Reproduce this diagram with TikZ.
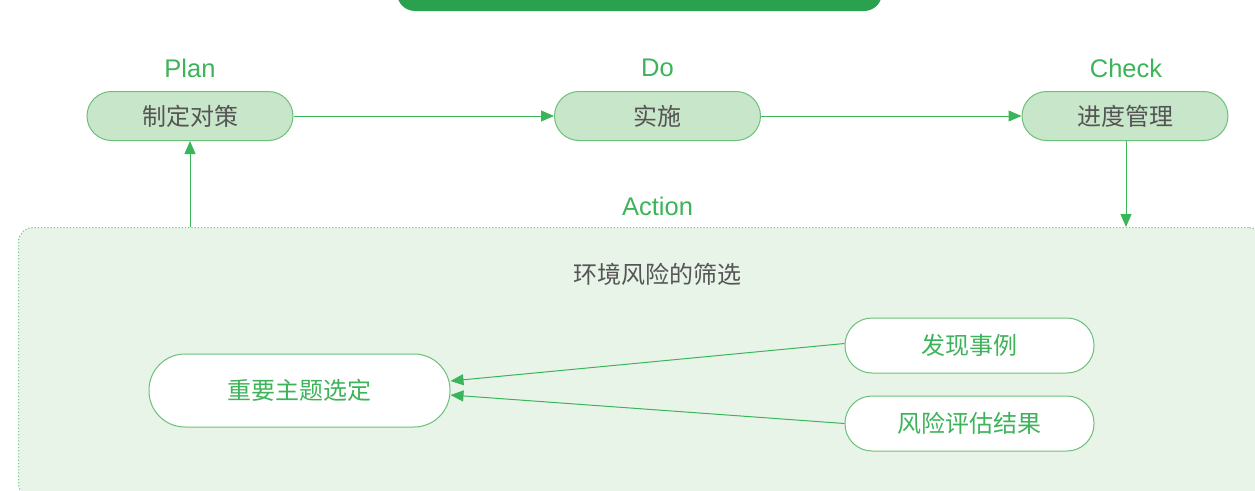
\documentclass[tikz,border=0pt]{standalone}
\usepackage{fontspec}
\setmainfont{Liberation Sans}
\newfontfamily\cjk{Noto Sans CJK SC}
\usetikzlibrary{arrows.meta}
\definecolor{banner}{HTML}{2AA14E}
\definecolor{topfill}{HTML}{C8E6C9}
\definecolor{topline}{HTML}{6CC077}
\definecolor{arrowc}{HTML}{3BB55A}
\definecolor{greytext}{HTML}{555555}
\definecolor{greentext}{HTML}{3DB35A}
\definecolor{panelfill}{HTML}{E8F4E8}
\definecolor{panelline}{HTML}{7DCB8A}
\tikzset{
  x=1pt, y=-1pt,
  topbox/.style={draw=topline, line width=1pt, fill=topfill, rounded corners=24.5pt,
    minimum width=206pt, minimum height=49pt, inner sep=0pt,
    font=\cjk\fontsize{24}{28}\selectfont, text=greytext},
  subbox/.style={draw=topline, line width=1pt, fill=white, inner sep=0pt,
    font=\cjk\fontsize{24}{28}\selectfont, text=greentext},
  phase/.style={font=\fontsize{25.5}{30}\selectfont, text=greentext},
  conn/.style={draw=arrowc, line width=1pt, -{Triangle[length=13pt,width=11pt]}},
}
\begin{document}
\begin{tikzpicture}
\useasboundingbox (0,0) rectangle (1255,490);
\clip (0,0) rectangle (1255,490);
% banner
\node[fill=banner, rounded corners=18pt, minimum width=485pt, minimum height=50pt, inner sep=0pt] (banner) at (639.5,-14) {};
% panel
\node[draw=panelline, dotted, line width=1.2pt, fill=panelfill, rounded corners=14pt,
  minimum width=1244pt, minimum height=270pt, inner sep=0pt, anchor=north west] (panel) at (18,227) {};
% top nodes
\node[topbox] (plan) at (190,116) {制定对策};
\node[topbox] (do) at (657.5,116) {实施};
\node[topbox] (check) at (1125,116) {进度管理};
\node[phase] (planl) at (190,68) {Plan};
\node[phase] (dol) at (657.5,68) {Do};
\node[phase] (checkl) at (1126,68) {Check};
\node[phase] (actl) at (657.5,206) {Action};
% panel content
\node[font=\cjk\fontsize{24}{28}\selectfont, text=greytext] (title) at (657,274) {环境风险的筛选};
\node[subbox, rounded corners=36pt, minimum width=301pt, minimum height=73pt] (main) at (299.5,390.5) {重要主题选定};
\node[subbox, rounded corners=27pt, minimum width=249pt, minimum height=55pt] (case) at (969.5,345.5) {发现事例};
\node[subbox, rounded corners=27pt, minimum width=249pt, minimum height=55pt] (risk) at (969.5,423.5) {风险评估结果};
% connectors
\coordinate (chkend) at (1126,227);
\coordinate (upstart) at (190,227);
\draw[conn] (plan.east) -- (do.west);
\draw[conn] (do.east) -- (check.west);
\draw[conn] (check.south -| chkend) -- (chkend);
\draw[conn] (upstart) -- (plan.south);
\draw[conn] ([yshift=2pt]case.west) -- ([yshift=9.5pt]main.east);
\draw[conn] (risk.west) -- ([yshift=-4.5pt]main.east);
\end{tikzpicture}
\end{document}
